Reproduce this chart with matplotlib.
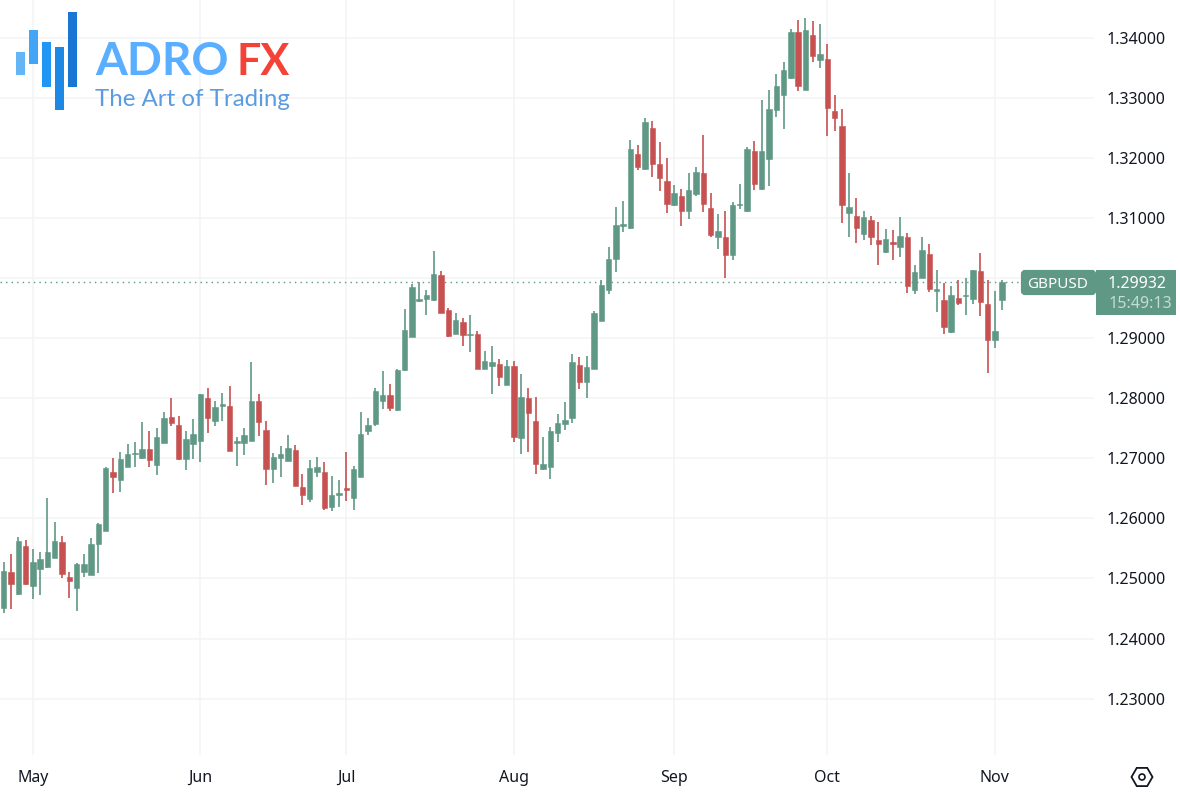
import math
import numpy as np
import matplotlib
matplotlib.use("Agg")
import matplotlib.pyplot as plt
from matplotlib.patches import Rectangle, FancyBboxPatch, RegularPolygon, Circle

# daily GBPUSD candles
opens = [1.24511, 1.25106, 1.24733, 1.25539, 1.24878, 1.25150, 1.25189, 1.25344, 1.25606, 1.25017,
         1.24844, 1.25111, 1.25061, 1.25578, 1.25794, 1.26767, 1.26644, 1.26861, 1.27072, 1.27006,
         1.27150, 1.26894, 1.27261, 1.27683, 1.27556, 1.26994, 1.27244, 1.27289, 1.28006, 1.27628,
         1.27878, 1.27867, 1.27261, 1.27261, 1.27294, 1.27950, 1.27472, 1.26817, 1.27006, 1.26961,
         1.27133, 1.26522, 1.26317, 1.26778, 1.26767, 1.26194, 1.26394, 1.26500, 1.26339, 1.26694,
         1.27461, 1.27578, 1.27950, 1.28061, 1.27800, 1.28467, 1.29028, 1.29628, 1.29661, 1.29633,
         1.30061, 1.29478, 1.29078, 1.29278, 1.29050, 1.29072, 1.28494, 1.28533, 1.28578, 1.28228,
         1.28544, 1.27333, 1.28006, 1.27622, 1.26817, 1.26850, 1.27417, 1.27567, 1.27667, 1.28556,
         1.28267, 1.28494, 1.29294, 1.29811, 1.30322, 1.30867, 1.30828, 1.32067, 1.31817, 1.32500,
         1.31900, 1.31611, 1.31217, 1.31372, 1.31117, 1.31400, 1.31750, 1.31167, 1.30694, 1.30683,
         1.30394, 1.31211, 1.31117, 1.32117, 1.31489, 1.31989, 1.32794, 1.33050, 1.33333, 1.34100,
         1.33133, 1.34050, 1.33633, 1.33650, 1.32789, 1.32533, 1.31078, 1.31033, 1.30744, 1.30967,
         1.30644, 1.30444, 1.30606, 1.30517, 1.30678, 1.29806, 1.30011, 1.30400, 1.29789, 1.29633,
         1.29106, 1.29667, 1.29706, 1.29656, 1.30128, 1.29578, 1.28972, 1.29639]
highs = [1.25267, 1.25400, 1.25683, 1.25633, 1.25489, 1.25433, 1.26344, 1.25933, 1.25700, 1.25106,
         1.25256, 1.25400, 1.25667, 1.25917, 1.26850, 1.27000, 1.27111, 1.27239, 1.27272, 1.27606,
         1.27456, 1.27500, 1.27767, 1.28000, 1.27711, 1.27456, 1.27650, 1.28080, 1.28167, 1.27950,
         1.28083, 1.28206, 1.27361, 1.27500, 1.28606, 1.28072, 1.27628, 1.27083, 1.27206, 1.27383,
         1.27217, 1.26733, 1.26967, 1.27017, 1.26933, 1.26700, 1.26633, 1.27100, 1.26867, 1.27767,
         1.27678, 1.28172, 1.28461, 1.28239, 1.28480, 1.29494, 1.29911, 1.29939, 1.29800, 1.30450,
         1.30122, 1.29506, 1.29422, 1.29339, 1.29383, 1.29128, 1.28783, 1.28878, 1.28661, 1.28639,
         1.28622, 1.28400, 1.28172, 1.28028, 1.27361, 1.27522, 1.27744, 1.27933, 1.28739, 1.28689,
         1.28711, 1.29461, 1.29967, 1.30522, 1.31178, 1.31289, 1.32300, 1.32211, 1.32661, 1.32617,
         1.32267, 1.31994, 1.31544, 1.31483, 1.31750, 1.31844, 1.32378, 1.31422, 1.31061, 1.31117,
         1.31261, 1.31567, 1.32178, 1.32283, 1.32967, 1.33133, 1.33394, 1.33594, 1.34150, 1.34300,
         1.34333, 1.34278, 1.34228, 1.33894, 1.33044, 1.32822, 1.31750, 1.31333, 1.31117, 1.31033,
         1.30933, 1.30817, 1.30811, 1.31011, 1.30761, 1.30222, 1.30694, 1.30567, 1.30139, 1.29922,
         1.29872, 1.29967, 1.30011, 1.30144, 1.30428, 1.29978, 1.29794, 1.29978]
lows = [1.24428, 1.24489, 1.24722, 1.24890, 1.24656, 1.24717, 1.25178, 1.25340, 1.25006, 1.24672,
        1.24461, 1.25017, 1.25055, 1.25094, 1.25783, 1.26428, 1.26444, 1.26850, 1.26861, 1.26994,
        1.26856, 1.26722, 1.27255, 1.27539, 1.26978, 1.26811, 1.26994, 1.26939, 1.27428, 1.27544,
        1.27628, 1.27122, 1.26878, 1.27061, 1.27290, 1.27378, 1.26561, 1.26594, 1.26683, 1.26955,
        1.26540, 1.26217, 1.26278, 1.26694, 1.26144, 1.26128, 1.26189, 1.26294, 1.26144, 1.26690,
        1.27383, 1.27544, 1.27828, 1.27783, 1.27795, 1.28460, 1.29017, 1.29600, 1.29383, 1.29628,
        1.29417, 1.29022, 1.29067, 1.28878, 1.28778, 1.28490, 1.28489, 1.28067, 1.28200, 1.28217,
        1.27267, 1.27078, 1.27100, 1.26733, 1.26811, 1.26656, 1.27267, 1.27467, 1.27583, 1.28150,
        1.28000, 1.28490, 1.29290, 1.29744, 1.30106, 1.30772, 1.30822, 1.31800, 1.31800, 1.31678,
        1.31450, 1.31089, 1.31206, 1.30867, 1.30983, 1.31367, 1.31100, 1.30683, 1.30489, 1.30011,
        1.30311, 1.31150, 1.31110, 1.31461, 1.31461, 1.31533, 1.32689, 1.32483, 1.33322, 1.33122,
        1.33128, 1.33594, 1.33506, 1.32372, 1.32456, 1.30922, 1.30689, 1.30589, 1.30633, 1.30550,
        1.30217, 1.30422, 1.30300, 1.30350, 1.29756, 1.29739, 1.30006, 1.29772, 1.29439, 1.29067,
        1.29094, 1.29556, 1.29389, 1.29578, 1.29367, 1.28428, 1.28839, 1.29467]
closes = [1.25122, 1.24900, 1.25617, 1.24900, 1.25278, 1.25322, 1.25444, 1.25617, 1.25067, 1.24961,
          1.25233, 1.25233, 1.25572, 1.25906, 1.26844, 1.26689, 1.26989, 1.27067, 1.27089, 1.27156,
          1.26978, 1.27356, 1.27672, 1.27589, 1.26983, 1.27317, 1.27400, 1.28072, 1.27678, 1.27856,
          1.27906, 1.27128, 1.27289, 1.27383, 1.27961, 1.27611, 1.26828, 1.27022, 1.27067, 1.27167,
          1.26544, 1.26394, 1.26839, 1.26850, 1.26178, 1.26383, 1.26428, 1.26478, 1.26822, 1.27406,
          1.27561, 1.28128, 1.28056, 1.27844, 1.28478, 1.29144, 1.29850, 1.29656, 1.29722, 1.30078,
          1.29428, 1.29033, 1.29311, 1.29050, 1.29072, 1.28494, 1.28628, 1.28606, 1.28350, 1.28544,
          1.27350, 1.28017, 1.27761, 1.26900, 1.26911, 1.27461, 1.27583, 1.27639, 1.28611, 1.28278,
          1.28522, 1.29428, 1.29894, 1.30328, 1.30883, 1.30906, 1.32144, 1.31844, 1.32600, 1.31894,
          1.31672, 1.31239, 1.31417, 1.31122, 1.31461, 1.31767, 1.31239, 1.30717, 1.30783, 1.30394,
          1.31217, 1.31233, 1.32144, 1.31572, 1.32117, 1.32817, 1.33200, 1.33461, 1.34106, 1.33206,
          1.34133, 1.33694, 1.33728, 1.32828, 1.32661, 1.31211, 1.31183, 1.30828, 1.31017, 1.30689,
          1.30572, 1.30650, 1.30567, 1.30711, 1.29872, 1.30111, 1.30472, 1.29822, 1.29828, 1.29189,
          1.29728, 1.29589, 1.29717, 1.30133, 1.29606, 1.28972, 1.29128, 1.29932]

month_idx = [4, 27, 47, 70, 92, 113, 136]
month_labels = ["May", "Jun", "Jul", "Aug", "Sep", "Oct", "Nov"]
price_ticks = [1.23, 1.24, 1.25, 1.26, 1.27, 1.28, 1.29, 1.30, 1.31, 1.32, 1.33, 1.34]
last_price = 1.29932

GREEN = "#5f9885"
RED = "#c75151"
GRID = "#f3f4f5"
TEXT = "#131722"
FONT = "Noto Sans"

plt.rcParams["font.family"] = FONT

fig = plt.figure(figsize=(11.8, 7.94), dpi=100, facecolor="white")
# chart pane stops at x=1094 and y=755
ax = fig.add_axes([0, 1 - 755 / 794, 1094 / 1180, 755 / 794])
ax.set_xlim(-0.504, 149.6)
ax.set_ylim(1.22060, 1.34633)

x = np.arange(len(opens))
o = np.array(opens)
h = np.array(highs)
l = np.array(lows)
c = np.array(closes)
colors = [GREEN if cc >= oo else RED for oo, cc in zip(o, c)]

ax.set_axisbelow(True)
ax.grid(True, color=GRID, linewidth=1.1)
ax.axhline(last_price, color=GREEN, linewidth=1, linestyle=(0, (1, 3)), zorder=1.5)
ax.vlines(x, l, h, colors=colors, linewidth=1.2, zorder=2)
ax.bar(x, np.abs(c - o), bottom=np.minimum(o, c), width=0.74, color=colors,
       edgecolor=colors, linewidth=0.4, zorder=3)

ax.set_xticks(month_idx)
ax.set_xticklabels(month_labels)
ax.set_yticks(price_ticks)
# the 1.30000 label sits behind the last price box
ax.set_yticklabels(["" if abs(p - 1.30) < 1e-9 else "%.5f" % p for p in price_ticks])
ax.yaxis.tick_right()
ax.tick_params(axis="both", length=0, colors=TEXT, labelsize=11.5)
ax.tick_params(axis="x", pad=10.5)
ax.tick_params(axis="y", pad=9)
for s in ax.spines.values():
    s.set_visible(False)

# overlay in pixel coordinates for logo, price labels and icon
ov = fig.add_axes([0, 0, 1, 1])
ov.set_xlim(0, 1180)
ov.set_ylim(794, 0)
ov.axis("off")
ov.patch.set_alpha(0)

logo_bars = [(16, 52, 9, 23, "#64b5f6"), (28.5, 29.5, 9, 34, "#42a5f5"), (41.5, 42, 9, 45, "#2196f3"),
             (54.5, 46.5, 9, 63, "#1e88e5"), (67.5, 12, 9, 75, "#1976d2")]
for bx, by, bw, bh, col in logo_bars:
    ov.add_patch(Rectangle((bx, by), bw, bh, color=col, linewidth=0))
ov.text(95, 75, "ADRO", color="#5aaeff", fontsize=33, fontfamily="Lato", fontweight="bold", va="baseline")
ov.text(237, 75, "FX", color="#f44336", fontsize=31, fontfamily="Lato", fontweight="bold", va="baseline")
ov.text(95, 106, "The Art of Trading", color="#5b9be0", fontsize=17.3, fontfamily="Lato", va="baseline")

# last price labels
ov.add_patch(FancyBboxPatch((1023, 272), 71, 21, boxstyle="round,pad=0,rounding_size=2",
                            facecolor=GREEN, edgecolor=GREEN, linewidth=3))
ov.add_patch(Rectangle((1096, 270), 80, 45, color=GREEN, linewidth=0))
ov.text(1058, 284, "GBPUSD", color="white", fontsize=11, ha="center", va="center")
ov.text(1137, 284.5, "1.29932", color="white", fontsize=11.5, ha="center", va="center")
ov.text(1140, 303.5, "15:49:13", color="#c6dbd3", fontsize=11.5, ha="center", va="center")

# settings icon
ov.add_patch(RegularPolygon((1142, 777), 6, radius=10.5, orientation=math.pi / 6,
                            fill=False, edgecolor=TEXT, linewidth=1.3))
ov.add_patch(Circle((1142, 777), 3, fill=False, edgecolor=TEXT, linewidth=1.2))

fig.savefig("out.png", dpi=100)
